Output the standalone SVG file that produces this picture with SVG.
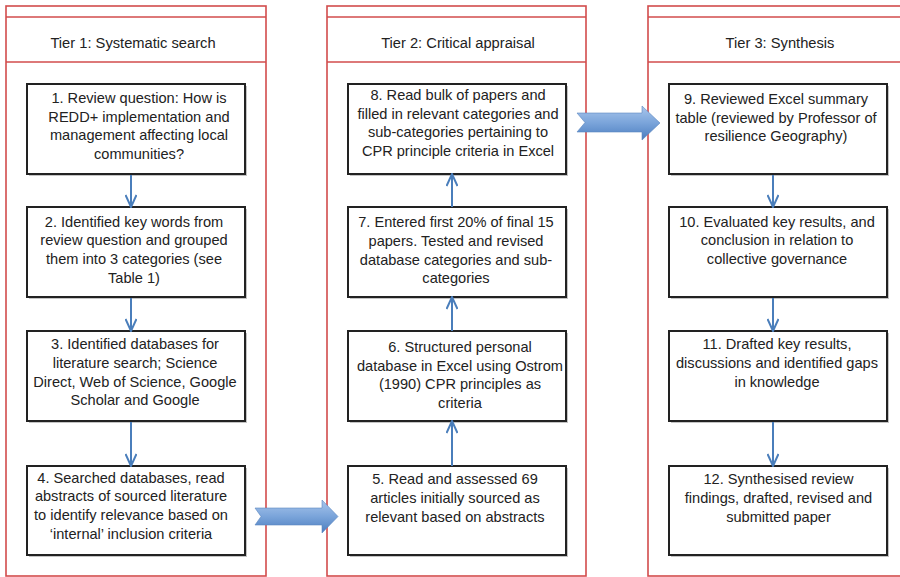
<svg xmlns="http://www.w3.org/2000/svg" width="900" height="577" viewBox="0 0 900 577">
<style>
.frame{fill:none;stroke:#d24c4c;stroke-width:1.6}
.box{fill:#fff;stroke:#222;stroke-width:2}
.shadow{fill:#c4c4c4;stroke:none}
.t{font-family:"Liberation Sans",Arial,sans-serif;font-size:14.6px;fill:#222;text-anchor:middle}
.h{font-family:"Liberation Sans",Arial,sans-serif;font-size:14.7px;fill:#222;text-anchor:middle}
.conn{fill:none;stroke:#4a7ebb;stroke-width:2}
.big{fill:url(#g);stroke:#5a86c0;stroke-width:0.6}
</style>
<defs>
<linearGradient id="g" x1="0" y1="0" x2="0" y2="1">
<stop offset="0" stop-color="#a9c6ec"/>
<stop offset="0.5" stop-color="#7aa4da"/>
<stop offset="1" stop-color="#4b7dbf"/>
</linearGradient>
<marker id="ah" viewBox="0 0 14 12" refX="13" refY="6" markerWidth="14" markerHeight="12" markerUnits="userSpaceOnUse" orient="auto">
<path d="M1,0.5 L13,6 L1,11.5" fill="none" stroke="#4a7ebb" stroke-width="2"/>
</marker>
</defs>
<rect width="900" height="577" fill="#fff"/>

<g id="tier1">
<rect class="frame" x="6" y="6" width="260" height="570"/>
<line class="frame" x1="6" y1="17" x2="266" y2="17"/>
<line class="frame" x1="6" y1="62" x2="266" y2="62"/>
<text class="h" x="133" y="48">Tier 1: Systematic search</text>
</g>
<g id="tier2">
<rect class="frame" x="327" y="6" width="259" height="570"/>
<line class="frame" x1="327" y1="17" x2="586" y2="17"/>
<line class="frame" x1="327" y1="62" x2="586" y2="62"/>
<text class="h" x="458" y="48">Tier 2: Critical appraisal</text>
</g>
<g id="tier3">
<rect class="frame" x="648" y="6" width="262" height="570"/>
<line class="frame" x1="648" y1="17" x2="910" y2="17"/>
<line class="frame" x1="648" y1="62" x2="910" y2="62"/>
<text class="h" x="780" y="48">Tier 3: Synthesis</text>
</g>

<g id="n1">
<rect class="shadow" x="29" y="86" width="218" height="90"/>
<rect class="box" x="27" y="84" width="218" height="90"/>
<text class="t" x="139" y="103">1. Review question: How is</text>
<text class="t" x="139" y="121.7">REDD+ implementation and</text>
<text class="t" x="139" y="140.3">management affecting local</text>
<text class="t" x="139" y="159">communities?</text>
</g>
<g id="n2">
<rect class="shadow" x="29" y="209" width="218" height="90"/>
<rect class="box" x="27" y="207" width="218" height="90"/>
<text class="t" x="134" y="226.7">2. Identified key words from</text>
<text class="t" x="134" y="245.3">review question and grouped</text>
<text class="t" x="134" y="264">them into 3 categories (see</text>
<text class="t" x="134" y="282.7">Table 1)</text>
</g>
<g id="n3">
<rect class="shadow" x="29" y="333" width="218" height="90"/>
<rect class="box" x="27" y="331" width="218" height="90"/>
<text class="t" x="135" y="349.3">3. Identified databases for</text>
<text class="t" x="135" y="368">literature search; Science</text>
<text class="t" x="135" y="386.7">Direct, Web of Science, Google</text>
<text class="t" x="135" y="405.3">Scholar and Google</text>
</g>
<g id="n4">
<rect class="shadow" x="29" y="468" width="218" height="89"/>
<rect class="box" x="27" y="466" width="218" height="89"/>
<text class="t" x="131" y="482.7">4. Searched databases, read</text>
<text class="t" x="131" y="501.3">abstracts of sourced literature</text>
<text class="t" x="131" y="520">to identify relevance based on</text>
<text class="t" x="131" y="538.7">‘internal’ inclusion criteria</text>
</g>

<g id="n8">
<rect class="shadow" x="350" y="86" width="218" height="90"/>
<rect class="box" x="348" y="84" width="218" height="90"/>
<text class="t" x="458" y="100">8. Read bulk of papers and</text>
<text class="t" x="458" y="118.7">filled in relevant categories and</text>
<text class="t" x="458" y="137.3">sub-categories pertaining to</text>
<text class="t" x="458" y="156">CPR principle criteria in Excel</text>
</g>
<g id="n7">
<rect class="shadow" x="350" y="209" width="218" height="90"/>
<rect class="box" x="348" y="207" width="218" height="90"/>
<text class="t" x="456" y="227.3">7. Entered first 20% of final 15</text>
<text class="t" x="456" y="246">papers. Tested and revised</text>
<text class="t" x="456" y="264.7">database categories and sub-</text>
<text class="t" x="456" y="283.3">categories</text>
</g>
<g id="n6">
<rect class="shadow" x="350" y="333" width="218" height="90"/>
<rect class="box" x="348" y="331" width="218" height="90"/>
<text class="t" x="460" y="352">6. Structured personal</text>
<text class="t" x="460" y="370.7">database in Excel using Ostrom</text>
<text class="t" x="460" y="389.3">(1990) CPR principles as</text>
<text class="t" x="460" y="408">criteria</text>
</g>
<g id="n5">
<rect class="shadow" x="350" y="468" width="218" height="89"/>
<rect class="box" x="348" y="466" width="218" height="89"/>
<text class="t" x="455" y="484.3">5. Read and assessed 69</text>
<text class="t" x="455" y="503">articles initially sourced as</text>
<text class="t" x="455" y="521.7">relevant based on abstracts</text>
</g>

<g id="n9">
<rect class="shadow" x="671" y="86" width="218" height="90"/>
<rect class="box" x="669" y="84" width="218" height="90"/>
<text class="t" x="776" y="104.3">9. Reviewed Excel summary</text>
<text class="t" x="776" y="122.7">table (reviewed by Professor of</text>
<text class="t" x="776" y="141.3">resilience Geography)</text>
</g>
<g id="n10">
<rect class="shadow" x="671" y="209" width="218" height="90"/>
<rect class="box" x="669" y="207" width="218" height="90"/>
<text class="t" x="777" y="226.7">10. Evaluated key results, and</text>
<text class="t" x="777" y="245.3">conclusion in relation to</text>
<text class="t" x="777" y="264">collective governance</text>
</g>
<g id="n11">
<rect class="shadow" x="671" y="333" width="218" height="90"/>
<rect class="box" x="669" y="331" width="218" height="90"/>
<text class="t" x="777" y="349.3">11. Drafted key results,</text>
<text class="t" x="777" y="368">discussions and identified gaps</text>
<text class="t" x="777" y="386.7">in knowledge</text>
</g>
<g id="n12">
<rect class="shadow" x="671" y="468" width="218" height="89"/>
<rect class="box" x="669" y="466" width="218" height="89"/>
<text class="t" x="778.5" y="484.3">12. Synthesised review</text>
<text class="t" x="778.5" y="503">findings, drafted, revised and</text>
<text class="t" x="778.5" y="521.7">submitted paper</text>
</g>

<g id="connectors">
<line class="conn" x1="131" y1="175" x2="131" y2="207" marker-end="url(#ah)"/>
<line class="conn" x1="131" y1="298" x2="131" y2="331" marker-end="url(#ah)"/>
<line class="conn" x1="131" y1="422" x2="131" y2="466" marker-end="url(#ah)"/>
<line class="conn" x1="452" y1="466" x2="452" y2="421" marker-end="url(#ah)"/>
<line class="conn" x1="452" y1="331" x2="452" y2="297" marker-end="url(#ah)"/>
<line class="conn" x1="452" y1="207" x2="452" y2="174" marker-end="url(#ah)"/>
<line class="conn" x1="773" y1="175" x2="773" y2="207" marker-end="url(#ah)"/>
<line class="conn" x1="773" y1="298" x2="773" y2="331" marker-end="url(#ah)"/>
<line class="conn" x1="773" y1="422" x2="773" y2="466" marker-end="url(#ah)"/>
<path class="big" d="M255,508 L322,508 L322,500 L338,516.5 L322,533 L322,525 L255,525 L261,516.5 Z"/>
<path class="big" d="M577,113 L642,113 L642,106 L660,123 L642,140 L642,132 L577,132 L585,122.5 Z"/>
</g>
</svg>
